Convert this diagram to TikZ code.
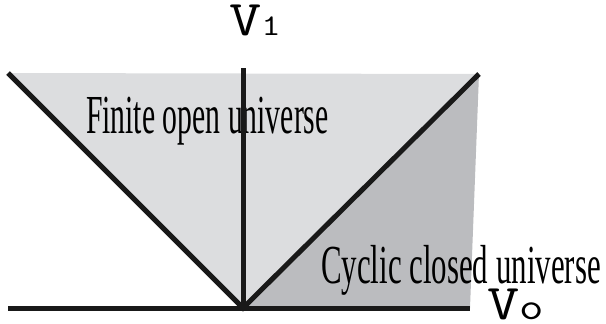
\documentclass[tikz,border=0pt]{standalone}
\usepackage{fontspec}
\setmainfont{Liberation Serif}
\definecolor{openfill}{HTML}{DCDDDF}
\definecolor{closedfill}{HTML}{BBBCBF}

\begin{document}
\begin{tikzpicture}[x=1pt,y=-1pt,
    axis/.style={line width=5pt,black!90},
    regionlabel/.style={font=\fontsize{55}{64}\selectfont,inner sep=0pt,anchor=base west,xscale=0.54},
    axislabel/.style={font=\ttfamily\fontsize{50}{56}\selectfont,inner sep=0pt,anchor=base west,xscale=1.25}]
  \useasboundingbox (0,0) rectangle (606,324);
  % corners of the two regions
  \coordinate (O) at (243,308);
  \coordinate (lefttop) at (8,73);
  \coordinate (righttop) at (479,74);
  \coordinate (rightfoot) at (470,308);
  \coordinate (xstart) at (8,308);
  \coordinate (ytop) at (243,68);
  \fill[openfill] (lefttop) -- (righttop) -- (O) -- cycle;
  \fill[closedfill] (righttop) -- (rightfoot) -- (O) -- cycle;
  \node[regionlabel] (open) at (86,133) {Finite open universe};
  \node[regionlabel,xscale=1.04] (closed) at (321,283) {Cyclic closed universe};
  \draw[axis] (xstart) -- (rightfoot);
  \draw[axis] (O) -- (ytop);
  \draw[axis] (lefttop) -- (O) -- (righttop);   % the two boundaries
  \node[axislabel] (vone) at (229,35) {V{\fontsize{30}{34}\selectfont 1}};
  \node[axislabel] (vzero) at (487,319) {V{\fontsize{38}{42}\selectfont o}};
\end{tikzpicture}
\end{document}
